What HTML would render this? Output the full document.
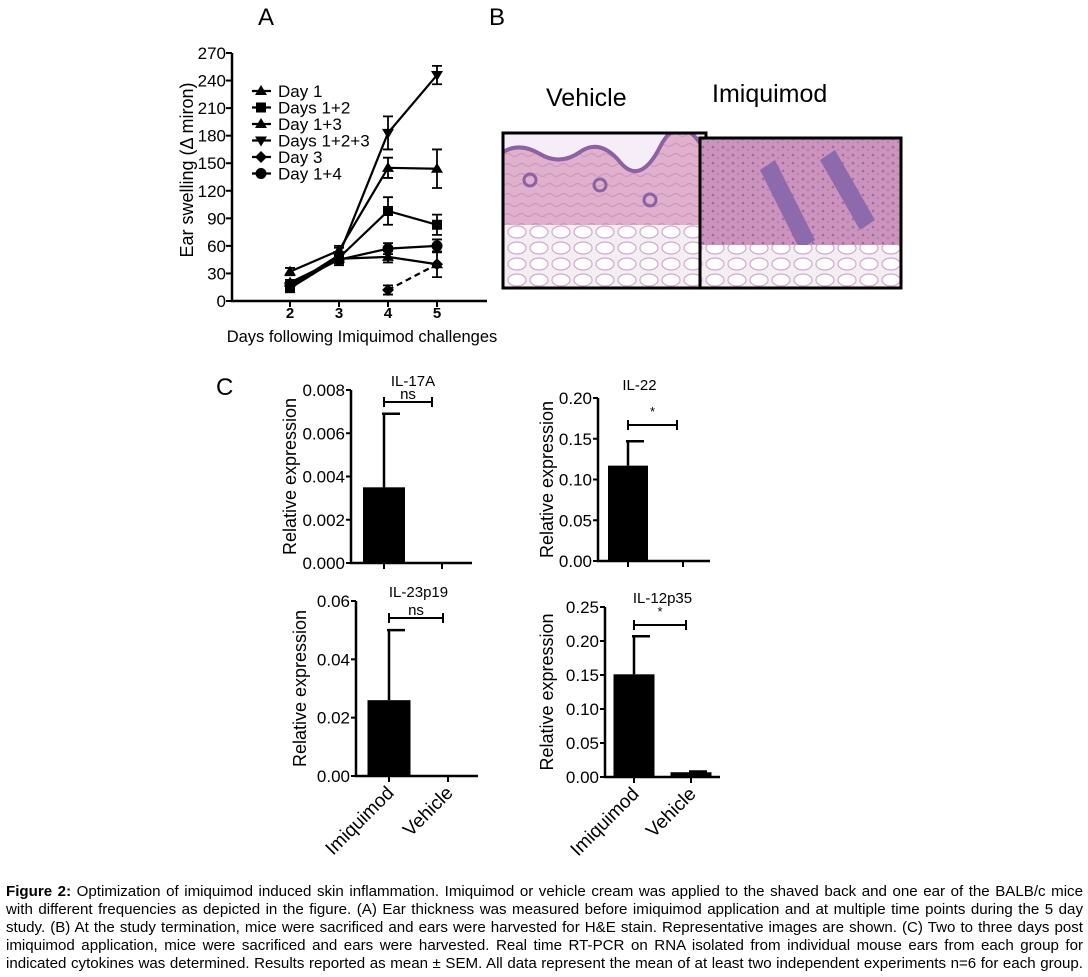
<!DOCTYPE html>
<html><head><meta charset="utf-8"><style>
body{margin:0;background:#fff;width:1088px;height:977px;overflow:hidden;font-family:"Liberation Sans",Arial,sans-serif}
svg{position:absolute;left:0;top:0}
#cap{position:absolute;left:6px;top:883px;width:1077px;font-size:15.1px;line-height:18px;color:#000}
#cap div{text-align:justify;text-align-last:justify;white-space:nowrap}
</style></head><body>
<svg id="fig" width="1088" height="977" font-family="Liberation Sans, Arial, sans-serif">
<defs>
<pattern id="tex1" width="14" height="10" patternUnits="userSpaceOnUse"><rect width="14" height="10" fill="#e0b0cc"/><path d="M0 5 Q4 2 7 5 T14 5" stroke="#cc98bc" fill="none" stroke-width="1.2"/></pattern>
<pattern id="fat" width="22" height="16" patternUnits="userSpaceOnUse"><rect width="22" height="16" fill="#f4eef4"/><ellipse cx="11" cy="8" rx="9" ry="6" fill="#fff" stroke="#d0aacb" stroke-width="1.2"/></pattern>
<pattern id="tex2" width="10" height="8" patternUnits="userSpaceOnUse"><rect width="10" height="8" fill="#cc94bc"/><circle cx="3" cy="3" r="1.3" fill="#9a6aa8"/><circle cx="8" cy="6" r="1" fill="#a878b0"/></pattern>
<clipPath id="c1"><rect x="503" y="133" width="203" height="155"/></clipPath>
<clipPath id="c2"><rect x="700" y="138" width="201" height="150"/></clipPath>
</defs>
<text x="258" y="25" font-size="24">A</text>
<text x="489" y="25" font-size="24">B</text>
<text x="216" y="395" font-size="24">C</text>
<g id="panelA"></g>
<g>
<text x="546" y="106" font-size="25">Vehicle</text>
<text x="712" y="102" font-size="25">Imiquimod</text>
<g clip-path="url(#c1)">
<rect x="503" y="133" width="203" height="155" fill="url(#tex1)"/>
<path d="M503 150 Q520 140 540 152 T580 150 T620 160 T660 145 T706 150 L706 133 L503 133Z" fill="#f6eef6"/>
<path d="M503 152 Q520 142 540 154 T580 152 T620 162 T660 147 T706 152" stroke="#8c62a4" stroke-width="4" fill="none"/>
<circle cx="530" cy="180" r="6" fill="none" stroke="#8c62a4" stroke-width="3"/>
<circle cx="600" cy="185" r="6" fill="none" stroke="#8c62a4" stroke-width="3"/>
<circle cx="650" cy="200" r="6" fill="none" stroke="#8c62a4" stroke-width="3"/>
<rect x="503" y="225" width="203" height="63" fill="url(#fat)"/>
</g>
<rect x="503" y="133" width="203" height="155" fill="none" stroke="#000" stroke-width="3"/>
<g clip-path="url(#c2)">
<rect x="700" y="138" width="201" height="150" fill="url(#tex2)"/>
<path d="M760 170 L800 250 L815 240 L775 160Z M820 160 L860 230 L875 220 L835 150Z" fill="#8c6aac"/>
<rect x="700" y="245" width="201" height="43" fill="url(#fat)"/>
</g>
<rect x="700" y="138" width="201" height="150" fill="none" stroke="#000" stroke-width="3"/>
</g>
<g id="panelC"></g>
</svg>
<div id="cap">
<div><b>Figure 2:</b> Optimization of imiquimod induced skin inflammation. Imiquimod or vehicle cream was applied to the shaved back and one ear of the BALB/c mice</div>
<div>with different frequencies as depicted in the figure. (A) Ear thickness was measured before imiquimod application and at multiple time points during the 5 day</div>
<div>study. (B) At the study termination, mice were sacrificed and ears were harvested for H&amp;E stain. Representative images are shown. (C) Two to three days post</div>
<div>imiquimod application, mice were sacrificed and ears were harvested. Real time RT-PCR on RNA isolated from individual mouse ears from each group for</div>
<div>indicated cytokines was determined. Results reported as mean ± SEM. All data represent the mean of at least two independent experiments n=6 for each group.</div>
</div>
<script>
const days=[2,3,4,5];
const yTicksA=[0,30,60,90,120,150,180,210,240,270];
const seriesNames=["Day 1","Days 1+2","Day 1+3","Days 1+2+3","Day 3","Day 1+4"];
const seriesMarkers=["tri","sq","tri","tridown","dia","circ"];
const day1=[32,55,145,144];
const day1err=[4,5,11,21];
const days12=[14,47,98,83];
const days12err=[3,5,15,11];
const day13=[20,46,48,40];
const day13err=[3,5,6,14];
const days123=[16,50,183,246];
const days123err=[3,8,18,10];
const day3=[null,null,12,40];
const day3err=[0,0,5,0];
const day14=[18,45,57,60];
const day14err=[3,6,6,7];

const NS="http://www.w3.org/2000/svg";
function mk(parent,tag,attrs,text){const e=document.createElementNS(NS,tag);for(const k in attrs)e.setAttribute(k,attrs[k]);if(text!=null)e.textContent=text;parent.appendChild(e);return e;}
const A=document.getElementById('panelA');
const xA=d=>290+(d-2)*49;
const yA=v=>301-v*(248/270);
let ax=mk(A,'path',{d:`M232 ${yA(270)} L232 301 L487 301`,stroke:'#000','stroke-width':2.5,fill:'none'});

yTicksA.forEach(t=>{
 mk(A,'line',{x1:226,x2:232,y1:yA(t),y2:yA(t),stroke:'#000','stroke-width':2});
 const l=mk(A,'text',{x:226,y:yA(t)+6,'font-size':17,'text-anchor':'end'},t);
 
});
days.forEach(d=>{
 mk(A,'line',{x1:xA(d),x2:xA(d),y1:301,y2:307,stroke:'#000','stroke-width':2});
 const l=mk(A,'text',{x:xA(d),y:318,'font-size':15,'font-weight':'bold','text-anchor':'middle'},d);
 
});
let xt=mk(A,'text',{x:362,y:342,'font-size':16.5,'text-anchor':'middle'},'Days following Imiquimod challenges');

let yt=mk(A,'text',{x:0,y:0,'font-size':18,'text-anchor':'middle',transform:`translate(193,170) rotate(-90)`},'Ear swelling (Δ  miron)');

function marker(g,type,x,y){
 if(type==='tri')mk(g,'path',{d:`M${x} ${y-6} L${x+6} ${y+4} L${x-6} ${y+4}Z`,fill:'#000'});
 else if(type==='tridown')mk(g,'path',{d:`M${x} ${y+6} L${x+6} ${y-4} L${x-6} ${y-4}Z`,fill:'#000'});
 else if(type==='sq')mk(g,'rect',{x:x-5,y:y-5,width:10,height:10,fill:'#000'});
 else if(type==='dia')mk(g,'path',{d:`M${x} ${y-6} L${x+6} ${y} L${x} ${y+6} L${x-6} ${y}Z`,fill:'#000'});
 else mk(g,'circle',{cx:x,cy:y,r:5.5,fill:'#000'});
}
const allS=[day1,days12,day13,days123,day3,day14];
const allE=[day1err,days12err,day13err,days123err,day3err,day14err];
allS.forEach((s,i)=>{
 const g=mk(A,'g',{});
 
 
 const pts=[];s.forEach((v,j)=>{if(v!=null)pts.push([xA(days[j]),yA(v),allE[i][j]]);});
 mk(g,'polyline',{points:pts.map(p=>p[0]+','+p[1]).join(' '),fill:'none',stroke:'#000','stroke-width':2.2,'stroke-dasharray':i===4?'6,4':'none'});
 pts.forEach(p=>{
  if(p[2]>0){const e=p[2]*248/270;mk(g,'path',{d:`M${p[0]} ${p[1]-e} V${p[1]+e} M${p[0]-5} ${p[1]-e} H${p[0]+5} M${p[0]-5} ${p[1]+e} H${p[0]+5}`,stroke:'#000','stroke-width':1.8,fill:'none'});}
  marker(g,seriesMarkers[i],p[0],p[1]);
 });
 const ly=97+i*16.5;
 const lg=mk(A,'g',{});
 
 mk(lg,'line',{x1:252,x2:271,y1:ly-6,y2:ly-6,stroke:'#000','stroke-width':2.2});
 marker(lg,seriesMarkers[i],261,ly-6);
 mk(lg,'text',{x:278,y:ly,'font-size':17},seriesNames[i]);
});

// Panel C
const groups=["Imiquimod","Vehicle"];
const chartTitles=["IL-17A","IL-22","IL-23p19","IL-12p35"];
const il17aVals=[0.0035,0];
const il17aErr=[0.0034,0];
const il22Vals=[0.117,0];
const il22Err=[0.030,0];
const il23Vals=[0.026,0];
const il23Err=[0.024,0];
const il12Vals=[0.151,0.007];
const il12Err=[0.056,0.001];
const il17aTicks=["0.000","0.002","0.004","0.006","0.008"];
const il22Ticks=["0.00","0.05","0.10","0.15","0.20"];
const il23Ticks=["0.00","0.02","0.04","0.06"];
const il12Ticks=["0.00","0.05","0.10","0.15","0.20","0.25"];
const sigLabels=["ns","*","ns","*"];
const layout=[
 {ax:351,top:390,bot:563,end:472,t0:384,t1:442,bw:42,br:402,brx:[384,432],lx:296,vals:il17aVals,err:il17aErr,ticks:il17aTicks,xl:false},
 {ax:598,top:398,bot:561,end:710,t0:628,t1:683,bw:40,br:425,brx:[628,677],lx:553,vals:il22Vals,err:il22Err,ticks:il22Ticks,xl:false},
 {ax:356,top:601,bot:776,end:478,t0:389,t1:448,bw:43,br:618,brx:[389,443],lx:306,vals:il23Vals,err:il23Err,ticks:il23Ticks,xl:true},
 {ax:605,top:607,bot:777,end:720,t0:634,t1:691,bw:41,br:625,brx:[634,686],lx:553,vals:il12Vals,err:il12Err,ticks:il12Ticks,xl:true}
];
const C=document.getElementById('panelC');
layout.forEach((L,k)=>{
 const g=mk(C,'g',{});
 
 
 const tmax=parseFloat(L.ticks[L.ticks.length-1]);
 const y=v=>L.bot-(v/tmax)*(L.bot-L.top);
 mk(g,'path',{d:`M${L.ax} ${L.top} V${L.bot} H${L.end}`,stroke:'#000','stroke-width':2.5,fill:'none'});
 L.ticks.forEach(t=>{const yy=y(parseFloat(t));
  mk(g,'line',{x1:L.ax-5,x2:L.ax,y1:yy,y2:yy,stroke:'#000','stroke-width':2});
  const tl=mk(g,'text',{x:L.ax-6,y:yy+6,'font-size':17,'text-anchor':'end'},t);
  
 });
 [L.t0,L.t1].forEach(x=>mk(g,'line',{x1:x,x2:x,y1:L.bot,y2:L.bot+6,stroke:'#000','stroke-width':2}));
 [L.t0,L.t1].forEach((cx,i)=>{
  const v=L.vals[i];
  if(v>0){
   const b=mk(g,'rect',{x:cx-L.bw/2,y:y(v),width:L.bw,height:L.bot-y(v),fill:'#000'});
   
   if(L.err[i]>0){const ye=y(v+L.err[i]);
    mk(g,'path',{d:`M${cx} ${y(v)} V${ye} M${cx-2} ${ye} H${cx+16}`,stroke:'#000','stroke-width':2.5,fill:'none'});}
  }
 });
 mk(g,'path',{d:`M${L.brx[0]} ${L.br-5} V${L.br+5} M${L.brx[0]} ${L.br} H${L.brx[1]} M${L.brx[1]} ${L.br-5} V${L.br+5}`,stroke:'#000','stroke-width':2,fill:'none'});
 const s=mk(g,'text',{x:(L.brx[0]+L.brx[1])/2,y:L.br-(sigLabels[k]==='*'?9:3),'font-size':sigLabels[k]==='*'?13:15,'text-anchor':'middle'},sigLabels[k]);
 
 const ti=mk(g,'text',{x:(L.t0+L.t1)/2+(k===1?-16:0),y:L.top-4+(k===1?-4:0),'font-size':15,'text-anchor':'middle'},chartTitles[k]);
 
 const yl=mk(g,'text',{x:0,y:0,'font-size':18,'text-anchor':'middle',transform:`translate(${L.lx},${(L.top+L.bot)/2}) rotate(-90)`},'Relative expression');
 
 if(L.xl){[L.t0,L.t1].forEach((cx,i)=>{
  const xl=mk(g,'text',{x:0,y:0,'font-size':19,'text-anchor':'end',transform:`translate(${cx+6},${L.bot+18}) rotate(-45)`},groups[i]);
  
 });}
});
</script>
</body></html>
